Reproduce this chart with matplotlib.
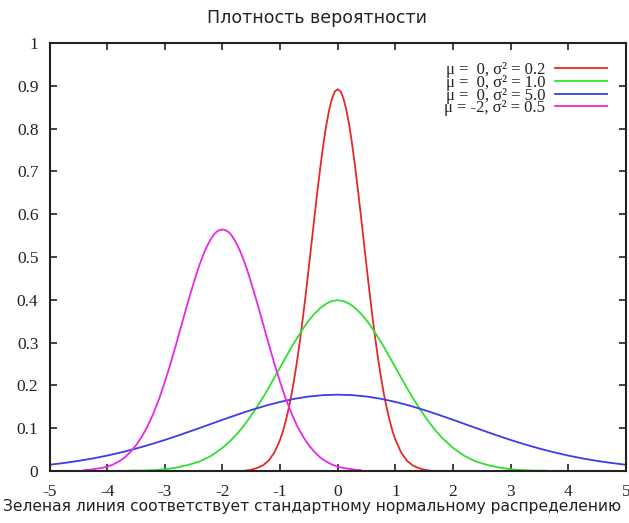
import matplotlib
matplotlib.use('Agg')
import matplotlib.pyplot as plt

# Values
red_x = [-1.6, -1.5, -1.4, -1.3, -1.2, -1.1, -1.0, -0.95, -0.9, -0.85, -0.8, -0.75, -0.7, -0.65, -0.6, -0.55,
         -0.5, -0.45, -0.4, -0.35, -0.3, -0.25, -0.2, -0.15, -0.1, -0.05, 0.0, 0.05, 0.1, 0.15, 0.2, 0.25,
         0.3, 0.35, 0.4, 0.45, 0.5, 0.55, 0.6, 0.65, 0.7, 0.75, 0.8, 0.85, 0.9, 0.95, 1.0,
         1.1, 1.2, 1.3, 1.4, 1.5, 1.6]
red_y = [0.001, 0.003, 0.007, 0.013, 0.024, 0.043, 0.073, 0.093, 0.118, 0.147, 0.180, 0.219, 0.262, 0.310, 0.363, 0.419,
         0.478, 0.538, 0.598, 0.657, 0.712, 0.763, 0.807, 0.843, 0.870, 0.887, 0.892, 0.887, 0.870, 0.843, 0.807, 0.763,
         0.712, 0.657, 0.598, 0.538, 0.478, 0.419, 0.363, 0.310, 0.262, 0.219, 0.180, 0.147, 0.118, 0.093, 0.073,
         0.043, 0.024, 0.013, 0.007, 0.003, 0.001]

green_x = [-3.6, -3.4, -3.2, -3.0, -2.8, -2.6, -2.4, -2.2, -2.0, -1.9, -1.8, -1.7, -1.6, -1.5, -1.4, -1.3, -1.2, -1.1,
           -1.0, -0.9, -0.8, -0.7, -0.6, -0.5, -0.4, -0.3, -0.2, -0.1, 0.0, 0.1, 0.2, 0.3, 0.4, 0.5, 0.6, 0.7, 0.8, 0.9,
           1.0, 1.1, 1.2, 1.3, 1.4, 1.5, 1.6, 1.7, 1.8, 1.9, 2.0, 2.2, 2.4, 2.6, 2.8, 3.0, 3.2, 3.4, 3.6]
green_y = [0.001, 0.001, 0.002, 0.004, 0.008, 0.014, 0.022, 0.035, 0.054, 0.066, 0.079, 0.094, 0.111, 0.130, 0.150, 0.171, 0.194, 0.218,
           0.242, 0.266, 0.290, 0.312, 0.333, 0.352, 0.368, 0.381, 0.391, 0.397, 0.399, 0.397, 0.391, 0.381, 0.368, 0.352, 0.333, 0.312, 0.290, 0.266,
           0.242, 0.218, 0.194, 0.171, 0.150, 0.130, 0.111, 0.094, 0.079, 0.066, 0.054, 0.035, 0.022, 0.014, 0.008, 0.004, 0.002, 0.001, 0.001]

blue_x = [-5.0, -4.75, -4.5, -4.25, -4.0, -3.75, -3.5, -3.25, -3.0, -2.75, -2.5, -2.25, -2.0, -1.75, -1.5, -1.25, -1.0, -0.75, -0.5, -0.25,
          0.0, 0.25, 0.5, 0.75, 1.0, 1.25, 1.5, 1.75, 2.0, 2.25, 2.5, 2.75, 3.0, 3.25, 3.5, 3.75, 4.0, 4.25, 4.5, 4.75, 5.0]
blue_y = [0.0146, 0.0187, 0.0236, 0.0293, 0.0360, 0.0437, 0.0524, 0.0620, 0.0725, 0.0837, 0.0955, 0.1075, 0.1196, 0.1313, 0.1425, 0.1526,
          0.1614, 0.1687, 0.1740, 0.1773, 0.1784, 0.1773, 0.1740, 0.1687, 0.1614, 0.1526, 0.1425, 0.1313, 0.1196, 0.1075, 0.0955, 0.0837,
          0.0725, 0.0620, 0.0524, 0.0437, 0.0360, 0.0293, 0.0236, 0.0187, 0.0146]

magenta_x = [-4.4, -4.3, -4.2, -4.1, -4.0, -3.9, -3.8, -3.7, -3.6, -3.5, -3.4, -3.3, -3.2, -3.1, -3.0, -2.9, -2.8, -2.7, -2.6,
             -2.5, -2.45, -2.4, -2.35, -2.3, -2.25, -2.2, -2.15, -2.1, -2.05, -2.0, -1.95, -1.9, -1.85, -1.8, -1.75, -1.7, -1.65, -1.6, -1.55, -1.5,
             -1.4, -1.3, -1.2, -1.1, -1.0, -0.9, -0.8, -0.7, -0.6, -0.5, -0.4, -0.3, -0.2, -0.1, 0.0, 0.1, 0.2, 0.3, 0.4]
magenta_y = [0.002, 0.003, 0.005, 0.007, 0.010, 0.015, 0.022, 0.031, 0.044, 0.060, 0.080, 0.104, 0.134, 0.168, 0.208, 0.251, 0.298, 0.346, 0.394,
             0.439, 0.461, 0.481, 0.499, 0.516, 0.530, 0.542, 0.552, 0.559, 0.563, 0.564, 0.563, 0.559, 0.552, 0.542, 0.530, 0.516, 0.499, 0.481, 0.461, 0.439,
             0.394, 0.346, 0.298, 0.251, 0.208, 0.168, 0.134, 0.104, 0.080, 0.060, 0.044, 0.031, 0.022, 0.015, 0.010, 0.007, 0.005, 0.003, 0.002]

labels = ['μ =  0, σ² = 0.2', 'μ =  0, σ² = 1.0', 'μ =  0, σ² = 5.0', 'μ = -2, σ² = 0.5']
colors = ['#e82828', '#30e030', '#3c3ce8', '#e828e8']

x_ticks = [-5, -4, -3, -2, -1, 0, 1, 2, 3, 4, 5]
y_ticks = [0, 0.1, 0.2, 0.3, 0.4, 0.5, 0.6, 0.7, 0.8, 0.9, 1]
y_ticklabels = ['0', '0.1', '0.2', '0.3', '0.4', '0.5', '0.6', '0.7', '0.8', '0.9', '1']

title = 'Плотность вероятности'
caption = 'Зеленая линия соответствует стандартному нормальному распределению'

fig = plt.figure(figsize=(6.29, 5.23), dpi=100)
ax = fig.add_axes([49.5 / 629, 1 - 471 / 523, (626 - 49.5) / 629, (471 - 43) / 523])

series = [(red_x, red_y), (green_x, green_y), (blue_x, blue_y), (magenta_x, magenta_y)]
for (xs, ys), lab, c in zip(series, labels, colors):
    ax.plot(xs, ys, color=c, lw=1.3, label=lab)

ax.set_xlim(-5, 5)
ax.set_ylim(0, 1)
ax.set_xticks(x_ticks)
ax.set_xticklabels([str(t) for t in x_ticks])
ax.set_yticks(y_ticks)
ax.set_yticklabels(y_ticklabels)
ax.tick_params(direction='in', length=5, width=1.2, top=True, right=True,
               labelsize=12.5, colors='#222222')
ax.tick_params(axis='x', pad=9)
ax.tick_params(axis='y', pad=8)
for lbl in ax.get_xticklabels() + ax.get_yticklabels():
    lbl.set_family('Liberation Serif')
for s in ax.spines.values():
    s.set_linewidth(1.5)
    s.set_color('#222222')

# tight rows like the original gnuplot key
leg = ax.legend(loc='upper right', frameon=False, markerfirst=False, handlelength=3.1,
                labelspacing=-0.2, handletextpad=0.6, borderaxespad=0.75,
                prop={'family': 'Liberation Serif', 'size': 12})
for t in leg.get_texts():
    t.set_ha('right')
    t.set_color('#222222')

fig.text(317 / 629, 1 - 18 / 523, title, ha='center', va='center', fontsize=12.5,
         family='DejaVu Sans', color='#222222')
fig.text(3 / 629, 1 - 506 / 523, caption, ha='left', va='center', fontsize=11.2,
         family='DejaVu Sans', color='#222222')

fig.savefig('out.png', dpi=100)
